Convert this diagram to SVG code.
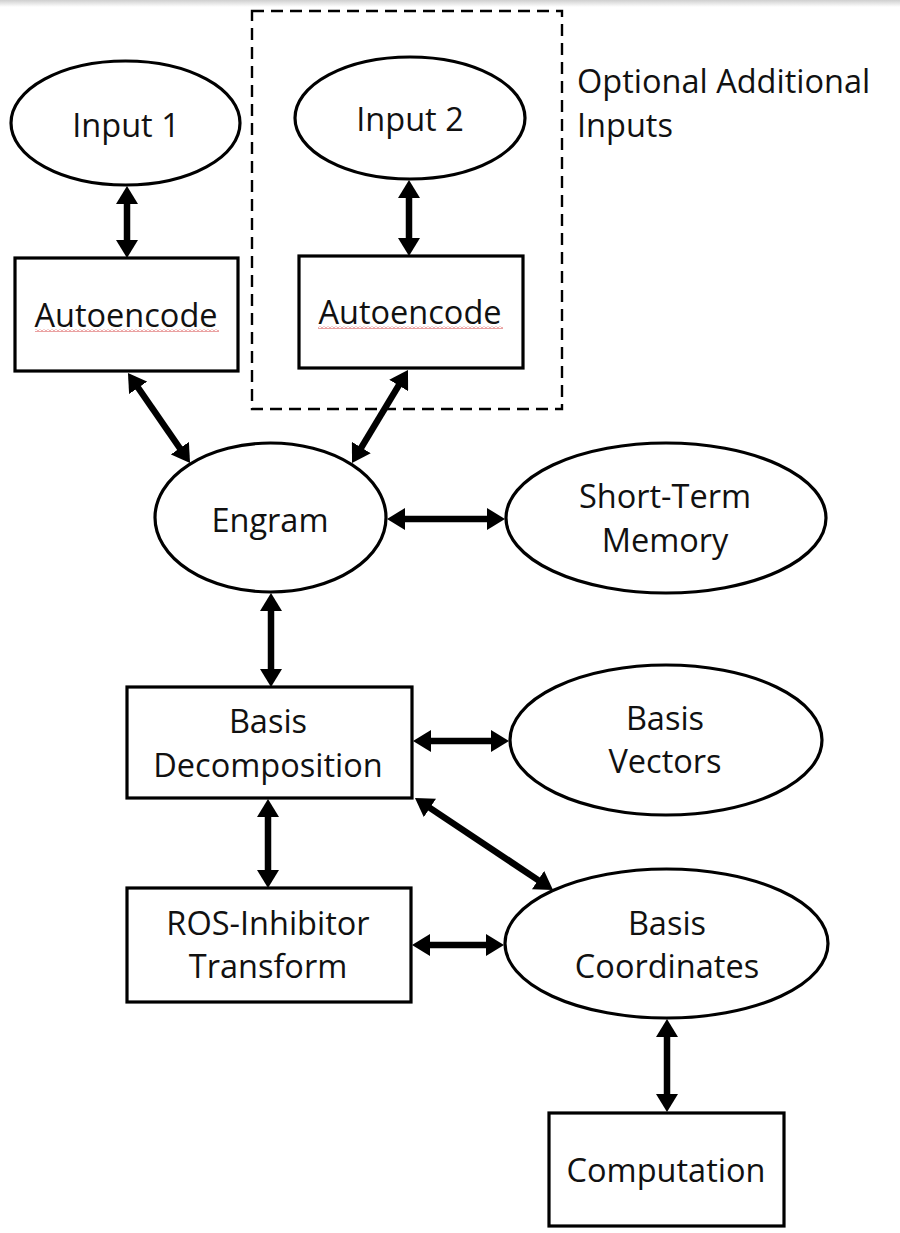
<svg xmlns="http://www.w3.org/2000/svg" width="900" height="1233" viewBox="0 0 900 1233">
<style>
.shape{fill:#fff;stroke:#000;stroke-width:3.2}
.lbl{font-family:"Open Sans","Noto Sans","Liberation Sans",sans-serif;font-size:32.5px;fill:#111;text-anchor:middle}
.note{font-family:"Open Sans","Noto Sans","Liberation Sans",sans-serif;font-size:32.5px;fill:#111}
.conn{stroke:#000;stroke-width:6.5;fill:none;marker-start:url(#ah);marker-end:url(#ah)}
.group{fill:none;stroke:#000;stroke-width:2.4;stroke-dasharray:12,7}
</style>
<defs>
<marker id="ah" viewBox="0 0 18 22" refX="1" refY="11" markerWidth="18" markerHeight="22" markerUnits="userSpaceOnUse" orient="auto-start-reverse">
<path d="M0,0 L18,11 L0,22 z" fill="#000"/>
</marker>
<pattern id="squiggle" patternUnits="userSpaceOnUse" x="0" y="0" width="4" height="3">
<path d="M0,2.5 L2,0.5 L4,2.5" fill="none" stroke="#d64545" stroke-width="1"/>
</pattern>
<linearGradient id="topshade" x1="0" y1="0" x2="0" y2="1">
<stop offset="0" stop-color="#cfcfcf"/>
<stop offset="1" stop-color="#ffffff"/>
</linearGradient>
</defs>
<rect x="0" y="0" width="900" height="1233" fill="#fff"/>
<rect x="0" y="0" width="900" height="7" fill="url(#topshade)"/>

<g id="optional-group">
<rect class="group" x="252" y="11" width="310" height="398"/>
<text class="note" x="577" y="93">Optional Additional</text>
<text class="note" x="577" y="137">Inputs</text>
</g>

<g id="connectors">
<line class="conn" x1="127" y1="203" x2="127" y2="241"/>
<line class="conn" x1="409" y1="197" x2="409" y2="239"/>
<line class="conn" x1="137.6" y1="387" x2="180.4" y2="449"/>
<line class="conn" x1="399.2" y1="384.6" x2="360.8" y2="448.4"/>
<line class="conn" x1="404" y1="519" x2="488" y2="519"/>
<line class="conn" x1="271" y1="610" x2="271" y2="670"/>
<line class="conn" x1="430" y1="741" x2="492" y2="741"/>
<line class="conn" x1="268" y1="816" x2="268" y2="871"/>
<line class="conn" x1="429.1" y1="807.4" x2="538.9" y2="880.6"/>
<line class="conn" x1="429" y1="945" x2="487" y2="945"/>
<line class="conn" x1="667" y1="1036" x2="667" y2="1095"/>
</g>

<g id="input1">
<ellipse class="shape" cx="125.5" cy="123" rx="114.5" ry="62"/>
<text class="lbl" x="126" y="137">Input 1</text>
</g>

<g id="autoencode1">
<rect class="shape" x="15" y="258" width="223" height="113"/>
<text class="lbl" x="126" y="327">Autoencode</text>
<rect x="35" y="329" width="184" height="3" fill="url(#squiggle)"/>
</g>

<g id="input2">
<ellipse class="shape" cx="410" cy="118" rx="115" ry="61"/>
<text class="lbl" x="410" y="131">Input 2</text>
</g>

<g id="autoencode2">
<rect class="shape" x="299" y="256" width="224" height="112"/>
<text class="lbl" x="410" y="324">Autoencode</text>
<rect x="318" y="326" width="185" height="3" fill="url(#squiggle)"/>
</g>

<g id="engram">
<ellipse class="shape" cx="270.5" cy="517.5" rx="115.5" ry="74.5"/>
<text class="lbl" x="270" y="532">Engram</text>
</g>

<g id="short-term-memory">
<ellipse class="shape" cx="666" cy="518" rx="160" ry="75"/>
<text class="lbl" x="665" y="508">Short-Term</text>
<text class="lbl" x="665" y="552">Memory</text>
</g>

<g id="basis-decomposition">
<rect class="shape" x="127" y="687" width="285" height="111"/>
<text class="lbl" x="268" y="733">Basis</text>
<text class="lbl" x="268" y="777">Decomposition</text>
</g>

<g id="basis-vectors">
<ellipse class="shape" cx="666" cy="740" rx="156" ry="75"/>
<text class="lbl" x="665" y="730">Basis</text>
<text class="lbl" x="665" y="773">Vectors</text>
</g>

<g id="ros-inhibitor-transform">
<rect class="shape" x="127" y="888" width="284" height="114"/>
<text class="lbl" x="268" y="935">ROS-Inhibitor</text>
<text class="lbl" x="268" y="978">Transform</text>
</g>

<g id="basis-coordinates">
<ellipse class="shape" cx="666.5" cy="943.5" rx="161.5" ry="74.5"/>
<text class="lbl" x="667" y="935">Basis</text>
<text class="lbl" x="667" y="978">Coordinates</text>
</g>

<g id="computation">
<rect class="shape" x="549" y="1113" width="235" height="113"/>
<text class="lbl" x="666" y="1182">Computation</text>
</g>
</svg>
